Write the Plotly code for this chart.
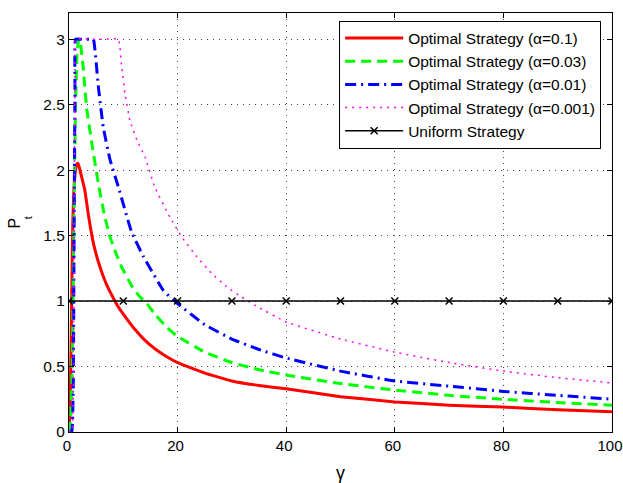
import plotly.graph_objects as go

# ---- data ----
g_red = [0, 0.2, 0.4, 0.55, 0.7, 0.9, 1.2, 1.5, 1.7, 2.2, 2.9, 3.6, 4.5, 5.4, 6.3, 7.2, 8.2, 9, 10,
         12, 14, 16, 18, 20, 25, 30, 35, 40, 50, 60, 70, 80, 90, 100]
p_red = [0, 0.2, 0.7, 1.2, 1.6, 1.85, 2.0, 2.05, 2.05, 1.97, 1.85, 1.65, 1.44, 1.30, 1.19, 1.10, 1.02, 0.96, 0.90,
         0.79, 0.70, 0.63, 0.575, 0.53, 0.45, 0.39, 0.355, 0.33, 0.27, 0.23, 0.205, 0.19, 0.17, 0.155]

g_green = [0, 0.3, 0.6, 0.8, 1.0, 1.2, 1.5, 1.8, 2.0, 2.3, 2.6, 3.26, 4.3, 5.4, 6.5, 7.55, 8.6, 9.7, 11.5,
           13.1, 14, 16, 18, 20, 25, 30, 35, 40, 50, 60, 70, 80, 90, 100]
p_green = [0, 0.1, 0.5, 1.2, 1.9, 2.5, 2.9, 3.0, 3.0, 2.9, 2.79, 2.47, 2.18, 1.90, 1.66, 1.49, 1.37, 1.26, 1.12,
           1.03, 1.0, 0.89, 0.80, 0.73, 0.61, 0.53, 0.475, 0.435, 0.37, 0.32, 0.28, 0.25, 0.225, 0.205]

g_blue = [0, 0.5, 0.8, 0.9, 1.0, 1.1, 1.2, 2, 3, 4, 4.5, 5.4, 6.3, 7.55, 9.1, 11.5, 13.7, 17.4, 20,
          25, 30, 35, 40, 50, 60, 70, 80, 90, 100]
p_blue = [0, 0, 0.4, 1.2, 2.0, 2.6, 3.0, 3.0, 3.0, 3.0, 3.0, 2.64, 2.33, 2.08, 1.87, 1.53, 1.34, 1.08, 0.98,
          0.82, 0.71, 0.63, 0.565, 0.465, 0.39, 0.35, 0.31, 0.28, 0.25]

g_mag = [0, 0.5, 0.8, 0.9, 1.0, 1.1, 1.2, 3, 6, 9.1, 9.7, 10.3, 11.2, 12.5, 14, 15.8, 18.6, 20.75, 23.5,
         26.3, 29, 31.8, 35, 40, 50, 60, 70, 80, 90, 100]
p_mag = [0, 0, 0.3, 1.0, 2.0, 2.7, 3.0, 3.0, 3.0, 3.0, 2.79, 2.59, 2.38, 2.23, 2.10, 1.87, 1.64, 1.49, 1.34,
         1.21, 1.11, 1.03, 0.95, 0.84, 0.71, 0.61, 0.53, 0.465, 0.415, 0.375]

g_uni = [0, 10, 20, 30, 40, 50, 60, 70, 80, 90, 100]
p_uni = [1, 1, 1, 1, 1, 1, 1, 1, 1, 1, 1]

names = ["Optimal Strategy (α=0.1)", "Optimal Strategy (α=0.03)",
         "Optimal Strategy (α=0.01)", "Optimal Strategy (α=0.001)", "Uniform Strategy"]

x_ticks = [0, 20, 40, 60, 80, 100]
y_ticks = [0, 0.5, 1, 1.5, 2, 2.5, 3]
y_ticktext = ["0", "0.5", "1", "1.5", "2", "2.5", "3"]

FONT = "Liberation Sans, Arial, sans-serif"
SM = 0.3

fig = go.Figure()
fig.add_trace(go.Scatter(x=g_red, y=p_red, mode="lines", name=names[0],
                         line=dict(color="#ff0000", width=3, shape="spline", smoothing=SM)))
fig.add_trace(go.Scatter(x=g_green, y=p_green, mode="lines", name=names[1],
                         line=dict(color="#00ff00", width=3, dash="10px,6px", shape="spline", smoothing=SM)))
fig.add_trace(go.Scatter(x=g_blue, y=p_blue, mode="lines", name=names[2],
                         line=dict(color="#0000ff", width=3, dash="11px,5px,2px,5px", shape="spline", smoothing=SM)))
fig.add_trace(go.Scatter(x=g_mag, y=p_mag, mode="lines", name=names[3],
                         line=dict(color="#ff00ff", width=1.5, dash="2px,5px", shape="spline", smoothing=SM)))
fig.add_trace(go.Scatter(x=g_uni, y=p_uni, mode="lines+markers", name=names[4],
                         line=dict(color="#000000", width=1.5),
                         marker=dict(symbol="x-thin", size=7, line=dict(color="#000000", width=1.5))))

axis_common = dict(
    automargin=False, ticklabeloverflow="allow",
    showline=True, linecolor="black", linewidth=1, mirror="allticks",
    ticks="inside", ticklen=5, tickcolor="black", tickwidth=1,
    showgrid=True, gridcolor="#444444", gridwidth=1, griddash="1px,5px",
    zeroline=False,
)

fig.update_layout(
    width=623, height=483,
    margin=dict(l=69, r=11, t=13, b=51),
    paper_bgcolor="white", plot_bgcolor="white",
    font=dict(family=FONT, size=16, color="black"),
    showlegend=True,
    legend=dict(x=0.98, y=0.982, xanchor="right", yanchor="top",
                bgcolor="white", bordercolor="black", borderwidth=1,
                font=dict(family=FONT, size=15.5, color="black"),
                itemwidth=58),
    xaxis=dict(range=[0, 100], tickvals=x_ticks, ticklabelshift=-2,
               tickfont=dict(family=FONT, size=15, color="black"), **axis_common),
    yaxis=dict(range=[0, 3.2], tickvals=y_ticks, ticktext=y_ticktext,
               tickfont=dict(family=FONT, size=15.5, color="black"), **axis_common),
    annotations=[
        dict(text="γ", xref="paper", yref="paper", x=0.5, y=-0.097, xanchor="center", yanchor="middle",
             showarrow=False, font=dict(family=FONT, size=18, color="black")),
        dict(text="P", xref="paper", yref="paper", x=-0.1022, y=0.4988, xanchor="center", yanchor="middle",
             textangle=-90, showarrow=False, font=dict(family=FONT, size=16, color="black")),
        dict(text="t", xref="paper", yref="paper", x=-0.0755, y=0.510, xanchor="center", yanchor="middle",
             textangle=-90, showarrow=False, font=dict(family=FONT, size=11, color="black")),
    ],
)

fig.write_html("out.html")
